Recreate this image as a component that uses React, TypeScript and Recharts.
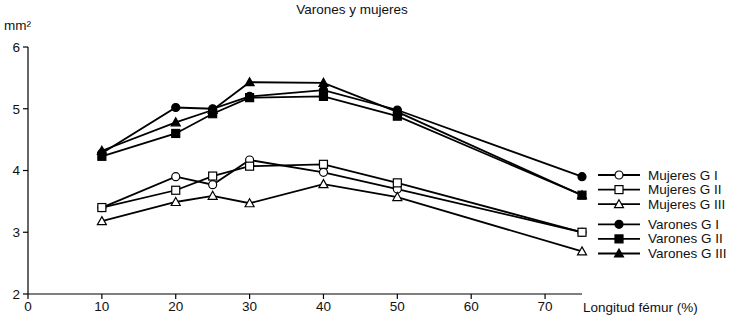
import React from "react";
import { LineChart, Line, XAxis, YAxis } from "recharts";

const X_VALUES = [10, 20, 25, 30, 40, 50, 75];
const MUJERES_G1 = [3.4, 3.9, 3.77, 4.17, 3.97, 3.7, 3.0];
const MUJERES_G2 = [3.4, 3.68, 3.91, 4.07, 4.1, 3.8, 3.0];
const MUJERES_G3 = [3.18, 3.49, 3.59, 3.47, 3.78, 3.57, 2.69];
const VARONES_G1 = [4.28, 5.02, 5.0, 5.2, 5.3, 4.98, 3.9];
const VARONES_G2 = [4.23, 4.6, 4.92, 5.18, 5.2, 4.88, 3.6];
const VARONES_G3 = [4.32, 4.78, 4.98, 5.43, 5.42, 4.95, 3.6];
const X_TICKS = [0, 10, 20, 30, 40, 50, 60, 70];
const Y_TICKS = [2, 3, 4, 5, 6];

type Kind = "circle" | "square" | "triangle";

const SERIES: { key: string; name: string; values: number[]; kind: Kind; filled: boolean }[] = [
  { key: "m1", name: "Mujeres G I", values: MUJERES_G1, kind: "circle", filled: false },
  { key: "m2", name: "Mujeres G II", values: MUJERES_G2, kind: "square", filled: false },
  { key: "m3", name: "Mujeres G III", values: MUJERES_G3, kind: "triangle", filled: false },
  { key: "v1", name: "Varones G I", values: VARONES_G1, kind: "circle", filled: true },
  { key: "v2", name: "Varones G II", values: VARONES_G2, kind: "square", filled: true },
  { key: "v3", name: "Varones G III", values: VARONES_G3, kind: "triangle", filled: true },
];

const data = X_VALUES.map((x, i) => {
  const row: Record<string, number> = { x };
  SERIES.forEach((s) => { row[s.key] = s.values[i]; });
  return row;
});

const FONT = "'Liberation Sans', Arial, sans-serif";

function Marker({ cx, cy, kind, filled }: { cx: number; cy: number; kind: Kind; filled: boolean }) {
  const fill = filled ? "#000" : "#fff";
  if (kind === "circle") return <circle cx={cx} cy={cy} r={4} fill={fill} stroke="#000" strokeWidth={1.2} />;
  if (kind === "square") return <rect x={cx - 4} y={cy - 4} width={8} height={8} fill={fill} stroke="#000" strokeWidth={1.2} />;
  return <path d={`M${cx},${cy - 4.5} L${cx + 4.5},${cy + 3.5} L${cx - 4.5},${cy + 3.5} Z`} fill={fill} stroke="#000" strokeWidth={1.2} />;
}

// legend drawn by hand, to the right of the plot
function LegendBox() {
  const rows = SERIES.map((s, i) => ({ ...s, y: 9 + i * 14.6 + (i >= 3 ? 5.5 : 0) }));
  return (
    <svg width={134} height={100} style={{ display: "block" }}>
      {rows.map((r) => (
        <g key={r.key}>
          <line x1={2} x2={44} y1={r.y} y2={r.y} stroke="#000" strokeWidth={1.8} />
          <Marker cx={23} cy={r.y} kind={r.kind} filled={r.filled} />
          <text x={52} y={r.y} dominantBaseline="central" fontSize={13.5} fontFamily={FONT} fill="#111">{r.name}</text>
        </g>
      ))}
    </svg>
  );
}

export default function App() {
  const tick = { fontSize: 13.5, fill: "#111", fontFamily: FONT };
  return (
    <div style={{ position: "absolute", left: 0, top: 0, width: 730, height: 318, background: "#fff", fontFamily: FONT }}>
      <div style={{ position: "absolute", left: 0, width: 704, top: 2, textAlign: "center", fontSize: 13.5, color: "#111" }}>Varones y mujeres</div>
      <div style={{ position: "absolute", left: 4, top: 18, fontSize: 13.5, color: "#111" }}>mm²</div>
      <div style={{ position: "absolute", left: 583, top: 300, fontSize: 13.5, color: "#111" }}>Longitud fémur (%)</div>
      <div style={{ position: "absolute", left: 596, top: 166 }}><LegendBox /></div>
      <LineChart width={730} height={318} data={data} margin={{ top: 47, right: 148, bottom: 0, left: 0 }}>
        <XAxis dataKey="x" type="number" domain={[0, 75]} ticks={X_TICKS} interval={0} height={24}
          tick={tick} tickSize={5} tickMargin={2} stroke="#000" strokeWidth={1.2} />
        <YAxis type="number" domain={[2, 6]} ticks={Y_TICKS} interval={0} width={28}
          tick={tick} tickSize={5} tickMargin={3} stroke="#000" strokeWidth={1.2} />
        {SERIES.map((s) => (
          <Line key={s.key} dataKey={s.key} name={s.name} stroke="#000" strokeWidth={1.8} isAnimationActive={false}
            dot={(p: any) => <Marker key={`${s.key}-${p.index}`} cx={p.cx} cy={p.cy} kind={s.kind} filled={s.filled} />} />
        ))}
      </LineChart>
    </div>
  );
}
